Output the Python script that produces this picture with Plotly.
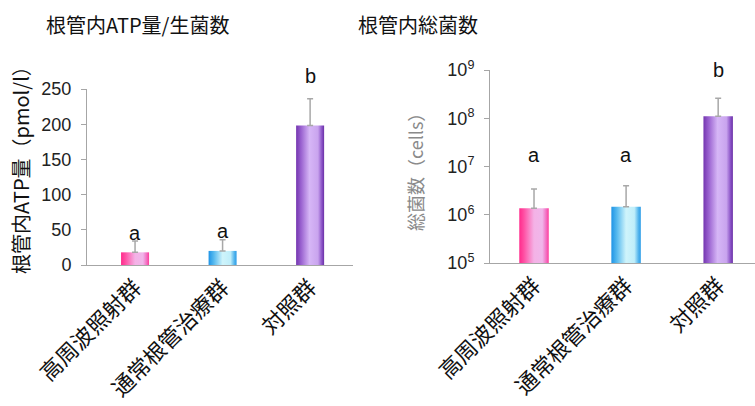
import math
import plotly.graph_objects as go

# Groups
categories = ["高周波照射群", "通常根管治療群", "対照群"]

# Intracanal ATP (pmol/l): means and upper error bar ends
atp_mean = [18, 20, 198]
atp_err_top = [34, 36, 236]
atp_letters = ["a", "a", "b"]
atp_letter_y = [46, 48, 268]
atp_range = [0, 250]

# Total bacterial count (cells): means and upper error bar ends
cells_mean = [1.36e6, 1.47e6, 1.1e8]
cells_err_top = [3.4e6, 4.0e6, 2.6e8]
cells_letters = ["a", "a", "b"]
cells_letter_y = [1.75e7, 1.75e7, 1.0e9]
cells_log_range = [5, 9]

log_ticks = [1e5, 1e6, 1e7, 1e8, 1e9]
log_tick_text = ["10<sup>5</sup>", "10<sup>6</sup>", "10<sup>7</sup>", "10<sup>8</sup>", "10<sup>9</sup>"]

# Horizontal gradients for each bar
gradients = [
    [[0, "#ff2a8c"], [0.15, "#ff4ea2"], [0.5, "#f4b2e6"], [0.78, "#f0b6ea"], [0.92, "#f36cc0"], [1, "#ff3c9a"]],
    [[0, "#1f94e6"], [0.18, "#54b8ee"], [0.5, "#cff4fb"], [0.78, "#bfeefa"], [0.92, "#52b4ec"], [1, "#2b9ce8"]],
    [[0, "#7436b0"], [0.18, "#9a62d0"], [0.48, "#d6b6f6"], [0.78, "#c9a4ee"], [0.92, "#8a52c6"], [1, "#6a30a6"]],
]

BAR_W = 0.32
FONT = "Noto Sans CJK JP"
AXIS_GRAY = "#a6a6a6"
ERR_GRAY = "#a8a8a8"

fig = go.Figure()


def add_bars(values, err_top, base, xa, ya):
    for i, v in enumerate(values):
        x0, x1 = i - BAR_W / 2, i + BAR_W / 2
        fig.add_trace(go.Scatter(
            x=[x0, x1, x1, x0, x0], y=[base, base, v, v, base],
            fill="toself", mode="lines", line=dict(width=0),
            fillgradient=dict(type="horizontal", colorscale=gradients[i]),
            xaxis=xa, yaxis=ya, showlegend=False, hoverinfo="skip",
        ))
    fig.add_trace(go.Scatter(
        x=list(range(len(values))), y=values, mode="markers",
        marker=dict(size=1, opacity=0),
        error_y=dict(type="data", symmetric=False,
                     array=[t - v for t, v in zip(err_top, values)],
                     arrayminus=[0] * len(values),
                     color=ERR_GRAY, thickness=1.5, width=3),
        xaxis=xa, yaxis=ya, showlegend=False, hoverinfo="skip",
    ))


add_bars(atp_mean, atp_err_top, 0, "x", "y")
add_bars(cells_mean, cells_err_top, 1e5, "x2", "y2")

annotations = []
# Significance letters, placed in axis-domain units so they may sit above the range
for i, t in enumerate(atp_letters):
    frac = (atp_letter_y[i] - atp_range[0]) / (atp_range[1] - atp_range[0])
    annotations.append(dict(x=i, y=frac, xref="x", yref="y domain", text=t,
                            xanchor="center", yanchor="middle", showarrow=False,
                            font=dict(size=20, color="#111")))
for i, t in enumerate(cells_letters):
    frac = (math.log10(cells_letter_y[i]) - cells_log_range[0]) / (cells_log_range[1] - cells_log_range[0])
    annotations.append(dict(x=i, y=frac, xref="x2", yref="y2 domain", text=t,
                            xanchor="center", yanchor="middle", showarrow=False,
                            font=dict(size=20, color="#111")))

# Panel titles
annotations.append(dict(x=137 / 755, y=1 - 25 / 406, xref="paper", yref="paper",
                        xanchor="center", yanchor="middle",
                        text="根管内ATP量/生菌数", showarrow=False,
                        font=dict(size=20, color="#111", family=FONT)))
annotations.append(dict(x=418 / 755, y=1 - 25 / 406, xref="paper", yref="paper",
                        xanchor="center", yanchor="middle",
                        text="根管内総菌数", showarrow=False,
                        font=dict(size=20, color="#111", family=FONT)))
# Y-axis titles
annotations.append(dict(x=20 / 755, y=1 - 165 / 406, xref="paper", yref="paper",
                        xanchor="center", yanchor="middle",
                        text="根管内ATP量（pmol/l）", textangle=-90, showarrow=False,
                        font=dict(size=20, color="#111", family=FONT)))
annotations.append(dict(x=415 / 755, y=1 - 168 / 406, xref="paper", yref="paper",
                        xanchor="center", yanchor="middle",
                        text="総菌数（cells）", textangle=-90, showarrow=False,
                        font=dict(size=18, color="#8a8a8a", family=FONT)))

xaxis_common = dict(
    tickmode="array", tickvals=list(range(len(categories))), ticktext=categories,
    tickangle=-45, tickfont=dict(size=22, color="#111", family=FONT),
    showline=True, linecolor=AXIS_GRAY, linewidth=1, ticks="",
    showgrid=False, zeroline=False, automargin=False, fixedrange=True,
)

fig.update_layout(
    width=755, height=406,
    margin=dict(l=0, r=0, t=0, b=0),
    paper_bgcolor="white", plot_bgcolor="white",
    font=dict(family="Liberation Sans, Arial", color="#111"),
    xaxis=dict(domain=[87 / 755, 353 / 755], range=[-0.549, 2.49], anchor="y", **xaxis_common),
    yaxis=dict(domain=[1 - 265 / 406, 1 - 89 / 406], range=atp_range,
               tickvals=[0, 50, 100, 150, 200, 250], tickfont=dict(size=18, color="#222"),
               ticks="outside", ticklen=5, tickcolor=AXIS_GRAY, ticklabelstandoff=6,
               showline=True, linecolor=AXIS_GRAY, linewidth=1, showgrid=False,
               zeroline=False, automargin=False, anchor="x"),
    xaxis2=dict(domain=[490 / 755, 1.0], range=[-0.478, 2.40], anchor="y2", **xaxis_common),
    yaxis2=dict(domain=[1 - 263 / 406, 1 - 70 / 406], type="log", range=cells_log_range,
                tickvals=log_ticks, ticktext=log_tick_text,
                tickfont=dict(size=18, color="#222"),
                ticks="outside", ticklen=5, tickcolor=AXIS_GRAY, ticklabelstandoff=6,
                showline=True, linecolor=AXIS_GRAY, linewidth=1, showgrid=False,
                zeroline=False, automargin=False, anchor="x2"),
    annotations=annotations,
)

fig.write_html("out.html")
